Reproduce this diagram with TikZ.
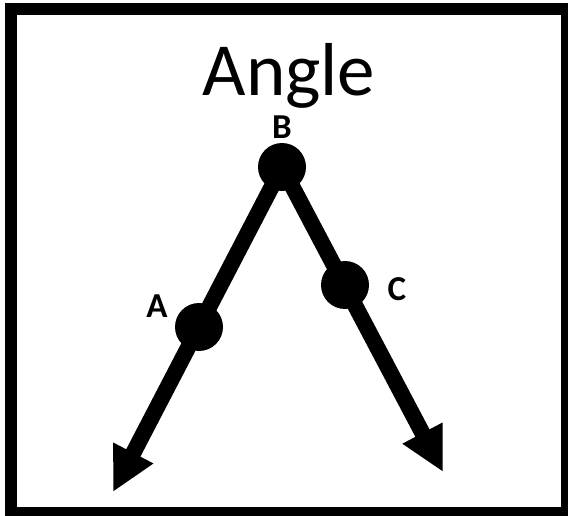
\documentclass[tikz,border=0pt]{standalone}
\usepackage{fontspec}
\setmainfont{Carlito}
\usetikzlibrary{arrows.meta}

\begin{document}
\begin{tikzpicture}[x=1pt, y=-1pt, > = {Triangle[length=44pt,width=42pt]}] % y runs downwards, as in pixels
  \useasboundingbox (0,0) rectangle (568,516);
  \draw[line width=12pt] (11,9) rectangle (567,513);
  \node[anchor=base, font=\fontsize{75}{80}\selectfont, inner sep=0pt] (title) at (289,96) {Angle};

  \node[shape=circle, fill=black, minimum size=48pt, inner sep=0pt] (B) at (282,167) {};
  \node[shape=circle, fill=black, minimum size=48pt, inner sep=0pt] (A) at (199,327) {};
  \node[shape=circle, fill=black, minimum size=48pt, inner sep=0pt] (C) at (345,285) {};
  \coordinate (endA) at (113,492);
  \coordinate (endC) at (443,472);

  \node[font=\fontsize{35}{36}\selectfont\bfseries, inner sep=0pt] (labB) at (282,127) {B};
  \node[font=\fontsize{35}{36}\selectfont\bfseries, inner sep=0pt] (labA) at (157,306) {A};
  \node[font=\fontsize{35}{36}\selectfont\bfseries, inner sep=0pt] (labC) at (397,289) {C};

  \path [->, line width=16pt] (B.center) edge (endA);
  \path [->, line width=16pt] (B.center) edge (endC);
\end{tikzpicture}
\end{document}
